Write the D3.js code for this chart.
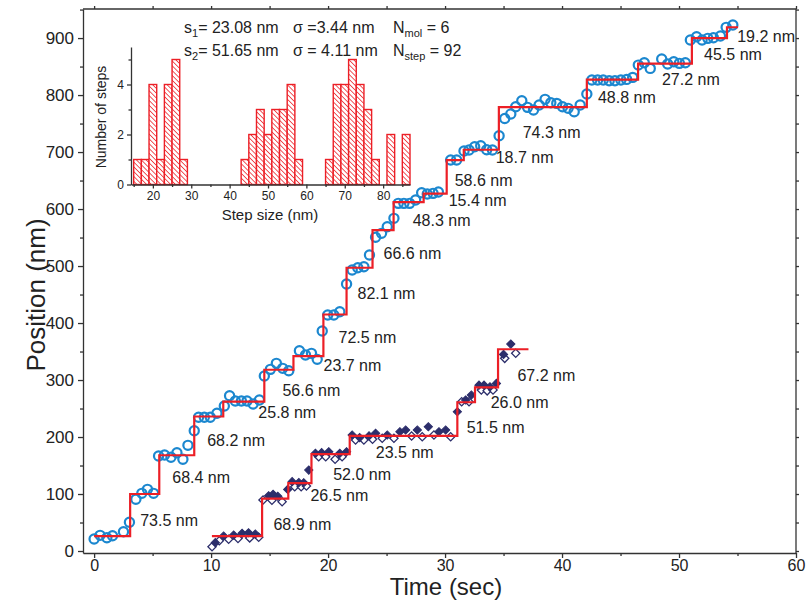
<!DOCTYPE html>
<html lang="en">
<head>
<meta charset="UTF-8">
<title>Step trace</title>
<script src="https://d3js.org/d3.v7.min.js"></script>
<style>
  body { margin: 0; background: #fff; }
  svg { font-family: "Liberation Sans", Arial, Helvetica, sans-serif; }
  .axis path, .axis line { stroke: #333; stroke-width: 1.3; }
  .axis text { fill: #222; }
</style>
</head>
<body>
<svg id="chart" width="811" height="600"></svg>
<script>
// ---- blue trace (circles) ----
const blueT = [0, 0.51, 1.09, 1.57, 2.51, 3.02, 3.57, 4.08, 4.56, 5.08, 5.51, 6.02, 6.57, 7.08, 7.59, 8.02, 8.56, 8.93,
  9.42, 9.93, 10.5, 11.13, 11.58, 12.07, 12.59, 13.07, 13.59, 14.13, 14.55, 15.07, 15.58, 16.12, 16.64, 17.55, 18.07,
  18.58, 19.07, 19.5, 19.97, 20.49, 21.0, 21.58, 22.06, 22.54, 23.06, 23.54, 24.06, 24.57, 25.06, 25.63, 26.0, 26.48,
  26.97, 27.48, 28.0, 28.48, 28.97, 29.43, 30.48, 30.99, 31.62, 32.05, 32.53, 33.05, 33.56, 34.05, 34.62, 35.1, 35.62,
  36.04, 36.56, 37.05, 37.56, 38.04, 38.55, 39.04, 39.55, 40.04, 40.52, 41.04, 41.55, 42.12, 42.55, 43.04, 43.52, 44.03,
  44.52, 45.03, 45.52, 46.04, 46.52, 47.03, 47.54, 48.52, 49.03, 49.55, 50.03, 50.54, 50.97, 51.5, 51.97, 52.46, 52.94,
  53.54, 54.03, 54.6];
const bluePos = [21, 27.5, 23.3, 26.8, 33.9, 50.4, 90.7, 101.2, 108.2, 101.2, 166.7, 168.4, 164.4, 172.5, 160.9, 185.4, 211, 234.6,
  234.6, 234.6, 241.6, 254.4, 272.5, 263.2, 263.2, 263.2, 257.9, 264.9, 307, 318.7, 329.3, 320.5, 316.3, 351.4, 343.9,
  346.8, 336.3, 386, 414, 414, 419.8, 468.4, 493, 497, 498.8, 519.3, 550.4, 557.4, 569, 583.7, 610, 610,
  610, 615.8, 628.6, 626.3, 627.5, 629.8, 686, 686, 701.8, 703.5, 709.4, 711, 704, 703.5, 728.6, 759, 766.7,
  779.5, 790, 778.4, 773.7, 782.5, 792.5, 786.5, 785.4, 779.5, 776.7, 770.7, 782.5, 801.8, 826.3, 826.3, 826.3, 825,
  825, 826.3, 827.5, 831, 852.6, 856.7, 846.8, 863.2, 854.4, 858.4, 855.6, 856.7, 896.5, 902.3, 896.5, 899.5, 900.5,
  903.5, 918.8, 922.8];
const blueStepT = [0, 3.08, 5.57, 8.56, 11.04, 14.55, 17.04, 19.6, 21.58, 23.8, 25.6, 28.17, 30.14, 31.6, 34.6, 42.12, 46.5, 51.1, 54.1];
const blueLevel = [26, 100, 168, 236, 262, 318, 342, 415, 497, 563, 612, 627, 686, 704, 779, 827, 855, 900, 919];
const blueEndT = 55.05;
const blueLabels = ["73.5 nm", "68.4 nm", "68.2 nm", "25.8 nm", "56.6 nm", "23.7 nm", "72.5 nm", "82.1 nm", "66.6 nm",
  "48.3 nm", "15.4 nm", "58.6 nm", "18.7 nm", "74.3 nm", "48.8 nm", "27.2 nm", "45.5 nm", "19.2 nm"];
const blueLabelT = [3.94, 6.68, 9.67, 14.04, 16.1, 19.61, 20.89, 22.52, 24.74, 27.23, 30.31, 30.82, 34.33, 36.64, 43.07, 48.54, 52.14, 54.97];
const blueLabelPos = [54.4, 129.8, 194.7, 243.9, 282.5, 326.3, 375.4, 452.6, 522.8, 580.7, 615.8, 650.9, 691.2, 735.1, 796.5, 828.1, 871.9, 903.5];

// ---- navy trace (diamonds, filled + open) ----
const fillT = [10.36, 11.07, 11.93, 12.65, 13.2, 13.78, 14.92, 15.3, 15.7, 16.55, 16.93, 17.5, 17.92, 18.35, 18.92, 19.45,
  20.06, 21.0, 21.58, 22.06, 22.7, 23.5, 24.06, 25.06, 26.14, 26.63, 27.63, 28.57, 29.48, 30.05, 31.05, 31.76, 32.25,
  32.9, 33.33, 33.84, 34.39, 35.0, 35.62];
const fillPos = [14.6, 26.3, 28, 31, 32, 29.8, 97, 99.5, 96, 108, 121.6, 120, 119.8, 142, 171.4, 172.5,
  174.2, 171.4, 174.2, 203.5, 199, 202, 206.4, 203.5, 209.3, 212.3, 212.3, 218, 209.3, 212.3, 244.4, 265, 273.7,
  291, 291, 288, 294, 345, 363];
const openT = [10.08, 10.7, 11.5, 12.3, 13.3, 14.07, 14.44, 15.2, 16.07, 17.15, 17.7, 18.15, 19.2, 19.8, 20.6, 21.2, 22.35,
  23.06, 23.8, 24.63, 25.63, 27.14, 28.05, 29.05, 30.48, 31.42, 32.05, 33.1, 33.6, 34.1, 35.1, 36.04];
const openPos = [7.5, 18, 20.5, 22, 23, 24, 89.5, 89, 86.5, 112.8, 112.8, 114, 165.4, 165.4, 160.9, 165.4, 194.7,
  194.7, 196, 197.7, 197.7, 201.8, 200.5, 203.5, 200.5, 262, 262, 282.5, 281, 282.5, 338, 347];
const navyStepT = [10.07, 14.36, 16.6, 18.58, 21.85, 31.05, 32.56, 34.53];
const navyLevel = [26, 92, 119, 170, 202, 261, 287, 354];
const navyEndT = 37.13;
const navyLabels = ["68.9 nm", "26.5 nm", "52.0 nm", "23.5 nm", "51.5 nm", "26.0 nm", "67.2 nm"];
const navyLabelT = [15.33, 18.49, 20.44, 24.08, 31.85, 33.9, 36.19];
const navyLabelPos = [47.4, 97, 135.1, 172.5, 216.3, 260.9, 308.8];

// ---- inset histogram ----
const histLeft = [15, 17, 19, 21, 23, 25, 27, 43, 45, 47, 49, 51, 53, 55, 57, 65, 67, 69, 71, 73, 75, 77, 81, 85];
const histCount = [1, 1, 4, 1, 4, 5, 1, 1, 2, 3, 2, 3, 3, 4, 1, 1, 4, 4, 5, 4, 3, 1, 2, 2];
const binWidth = 2;

const RED = "#ec1f26", BLUE = "#1b87cf", NAVY = "#2c2e6b";

const svg = d3.select("#chart");
svg.append("rect").attr("width", 811).attr("height", 600).attr("fill", "#fff");

// hatch pattern for histogram bars
const defs = svg.append("defs");
const pat = defs.append("pattern").attr("id", "hatch").attr("patternUnits", "userSpaceOnUse")
  .attr("width", 3.4).attr("height", 3.4).attr("patternTransform", "rotate(-45)");
pat.append("rect").attr("width", 3.4).attr("height", 3.4).attr("fill", "#fff");
pat.append("line").attr("x1", 0).attr("y1", 0).attr("x2", 0).attr("y2", 3.4)
  .attr("stroke", RED).attr("stroke-width", 1.5);

// main scales
const L = 83, R = 796, T = 9, B = 553;
const x = d3.scaleLinear().domain([-0.95, 60]).range([L, R]);
const y = d3.scaleLinear().domain([-3.5, 951]).range([B, T]);

// frame
svg.append("line").attr("x1", L).attr("x2", R).attr("y1", T).attr("y2", T).attr("stroke", "#333").attr("stroke-width", 1.3);
svg.append("line").attr("x1", R).attr("x2", R).attr("y1", T).attr("y2", B).attr("stroke", "#333").attr("stroke-width", 1.3);

const gx = svg.append("g").attr("class", "axis").attr("transform", `translate(0,${B})`)
  .call(d3.axisBottom(x).tickValues(d3.range(0, 61, 10)).tickSize(5).tickPadding(2).tickSizeOuter(0));
gx.selectAll("text").attr("font-size", 16);
svg.append("g").attr("class", "axis").attr("transform", `translate(0,${B})`)
  .call(d3.axisBottom(x).tickValues(d3.range(5, 60, 10)).tickSize(3).tickFormat("").tickSizeOuter(0))
  .select(".domain").remove();
const gy = svg.append("g").attr("class", "axis").attr("transform", `translate(${L},0)`)
  .call(d3.axisLeft(y).tickValues(d3.range(0, 901, 100)).tickSize(5).tickPadding(4).tickSizeOuter(0));
gy.selectAll("text").attr("font-size", 17);
svg.append("g").attr("class", "axis").attr("transform", `translate(${L},0)`)
  .call(d3.axisLeft(y).tickValues(d3.range(50, 951, 100)).tickSize(3).tickFormat("").tickSizeOuter(0))
  .select(".domain").remove();
// mirrored ticks on right and top
svg.append("g").attr("class", "axis").attr("transform", `translate(${R},0)`)
  .call(d3.axisRight(y).tickValues(d3.range(0, 951, 50)).tickSize(3).tickFormat("").tickSizeOuter(0))
  .select(".domain").remove();
svg.append("g").attr("class", "axis").attr("transform", `translate(0,${T})`)
  .call(d3.axisTop(x).tickValues(d3.range(0, 61, 5)).tickSize(3).tickFormat("").tickSizeOuter(0))
  .select(".domain").remove();

svg.append("text").attr("x", 446).attr("y", 595).attr("text-anchor", "middle")
  .attr("font-size", 24).attr("fill", "#222").text("Time (sec)");
svg.append("text").attr("transform", "translate(45,295) rotate(-90)").attr("text-anchor", "middle")
  .attr("font-size", 26).attr("fill", "#222").text("Position (nm)");

// step fits
function stepLine(ts, levels, endT) {
  const pts = [];
  ts.forEach((t, i) => {
    if (i > 0) pts.push([t, levels[i - 1]]);
    pts.push([t, levels[i]]);
  });
  pts.push([endT, levels[levels.length - 1]]);
  return pts;
}
const line = d3.line().x(d => x(d[0])).y(d => y(d[1]));

// navy diamonds
const diamond = d3.symbol().type(d3.symbolSquare).size(34);
const openData = openT.map((t, i) => [t, openPos[i]]);
const fillData = fillT.map((t, i) => [t, fillPos[i]]);
svg.append("g").selectAll("path").data(openData).join("path")
  .attr("d", diamond).attr("transform", d => `translate(${x(d[0])},${y(d[1])}) rotate(45)`)
  .attr("fill", "#fff").attr("stroke", NAVY).attr("stroke-width", 1.3);
svg.append("g").selectAll("path").data(fillData).join("path")
  .attr("d", diamond).attr("transform", d => `translate(${x(d[0])},${y(d[1])}) rotate(45)`)
  .attr("fill", NAVY).attr("stroke", NAVY).attr("stroke-width", 1);

svg.append("path").datum(stepLine(navyStepT, navyLevel, navyEndT)).attr("d", line)
  .attr("fill", "none").attr("stroke", RED).attr("stroke-width", 2.2);

// blue circles
const blueData = blueT.map((t, i) => [t, bluePos[i]]);
svg.append("g").selectAll("circle").data(blueData).join("circle")
  .attr("cx", d => x(d[0])).attr("cy", d => y(d[1])).attr("r", 4.6)
  .attr("fill", "none").attr("stroke", BLUE).attr("stroke-width", 2.2);

svg.append("path").datum(stepLine(blueStepT, blueLevel, blueEndT)).attr("d", line)
  .attr("fill", "none").attr("stroke", RED).attr("stroke-width", 2.2);

// step labels
function addLabels(labels, ts, ps) {
  svg.append("g").selectAll("text").data(labels).join("text")
    .attr("x", (d, i) => x(ts[i])).attr("y", (d, i) => y(ps[i])).attr("dy", "0.36em")
    .attr("font-size", 16).attr("fill", "#222").text(d => d);
}
addLabels(blueLabels, blueLabelT, blueLabelPos);
addLabels(navyLabels, navyLabelT, navyLabelPos);

// ---- inset ----
const hx = d3.scaleLinear().domain([14.3, 87]).range([131, 410]);
const hy = d3.scaleLinear().domain([0, 5.5]).range([184.5, 47]);

svg.append("g").selectAll("rect").data(histLeft).join("rect")
  .attr("x", d => hx(d)).attr("width", d => hx(d + binWidth) - hx(d))
  .attr("y", (d, i) => hy(histCount[i])).attr("height", (d, i) => hy(0) - hy(histCount[i]))
  .attr("fill", "url(#hatch)").attr("stroke", RED).attr("stroke-width", 1.4);

const hax = svg.append("g").attr("class", "axis").attr("transform", `translate(0,${hy(0)})`)
  .call(d3.axisBottom(hx).tickValues(d3.range(20, 81, 10)).tickSize(4).tickPadding(3).tickSizeOuter(0));
hax.selectAll("text").attr("font-size", 12);
hax.select(".domain").attr("stroke", "#4a2a2a");
svg.append("g").attr("class", "axis").attr("transform", `translate(0,${hy(0)})`)
  .call(d3.axisBottom(hx).tickValues(d3.range(15, 86, 10)).tickSize(2.5).tickFormat("").tickSizeOuter(0))
  .select(".domain").remove();
const hay = svg.append("g").attr("class", "axis").attr("transform", `translate(131,0)`)
  .call(d3.axisLeft(hy).tickValues([0, 2, 4]).tickFormat(d3.format("d")).tickSize(4).tickPadding(3).tickSizeOuter(0));
hay.selectAll("text").attr("font-size", 12);
svg.append("g").attr("class", "axis").attr("transform", `translate(131,0)`)
  .call(d3.axisLeft(hy).tickValues([1, 3, 5]).tickSize(2.5).tickFormat("").tickSizeOuter(0))
  .select(".domain").remove();
svg.selectAll(".axis path, .axis line").attr("stroke-width", 1.2);

svg.append("text").attr("x", 270).attr("y", 220).attr("text-anchor", "middle")
  .attr("font-size", 15).attr("fill", "#222").text("Step size (nm)");
svg.append("text").attr("transform", "translate(106,117) rotate(-90)").attr("text-anchor", "middle")
  .attr("font-size", 14).attr("fill", "#222").text("Number of steps");

// fit summary
function header(xPos, yPos, main, sub, rest) {
  const t = svg.append("text").attr("x", xPos).attr("y", yPos).attr("font-size", 16).attr("fill", "#222");
  t.append("tspan").text(main);
  t.append("tspan").attr("font-size", 11).attr("dy", 4).text(sub);
  t.append("tspan").attr("dy", -4).text(rest);
}
header(184, 33, "s", "1", "= 23.08 nm");
header(184, 56, "s", "2", "= 51.65 nm");
svg.append("text").attr("x", 293).attr("y", 33).attr("font-size", 16).attr("fill", "#222").text("σ =3.44 nm");
svg.append("text").attr("x", 293).attr("y", 56).attr("font-size", 16).attr("fill", "#222").text("σ = 4.11 nm");
header(393, 33, "N", "mol", " = 6");
header(393, 56, "N", "step", " = 92");
</script>
</body>
</html>
